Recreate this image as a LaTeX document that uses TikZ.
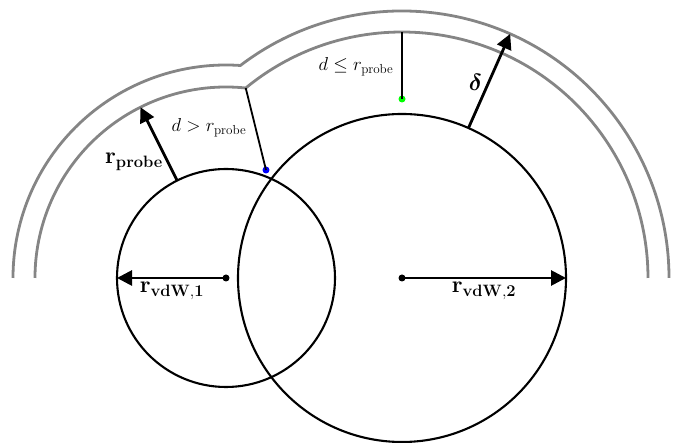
\documentclass[tikz,border=0pt]{standalone}
\usepackage{fix-cm}
\usepackage{amsmath,bm}
\usetikzlibrary{arrows.meta,calc}
\begin{document}
\begin{tikzpicture}[x=1pt,y=1pt,
  atom/.style={draw=black,line width=2.1pt},
  shell/.style={draw=black!48,line width=2.8pt},
  radarrow/.style={line width=2.8pt,-{Triangle[length=15pt,width=15pt]}},
  thinline/.style={line width=1.8pt},
  ctrdot/.style={circle,fill=black,inner sep=0pt,minimum size=7pt},
  probedot/.style={circle,inner sep=0pt,minimum size=7pt},
  biglabel/.style={font=\fontsize{23.5}{28}\selectfont,inner sep=1pt},
  smalllabel/.style={font=\fontsize{18.7}{22}\selectfont,inner sep=1pt}]
\useasboundingbox (0,0) rectangle (680,443);
% centres
\coordinate (c1) at (226,165);
\coordinate (c2) at (402,165);
% vdW spheres
\draw[atom] (c1) circle[radius=109pt];
\draw[atom] (c2) circle[radius=164pt];
% probe surfaces
\draw[shell] ([shift={(180:191pt)}]c1) arc[start angle=180,end angle=84.07,radius=191pt]
  arc[start angle=129.44,end angle=0,radius=246pt];
\draw[shell] ([shift={(180:213pt)}]c1) arc[start angle=180,end angle=86.13,radius=213pt]
  arc[start angle=127.26,end angle=0,radius=267pt];
% key points
\coordinate (kin) at ([shift={(84.07:191pt)}]c1);
\coordinate (top2) at ([shift={(90:246pt)}]c2);
\node[probedot,fill=blue] (bd) at (266,273) {};
\node[probedot,fill=green] (gd) at (402,344) {};
\draw[thinline] (bd.center) -- (kin);
\draw[thinline] (gd.center) -- (top2);
% centre dots and radius arrows
\node[ctrdot] (d1) at (c1) {};
\node[ctrdot] (d2) at (c2) {};
\coordinate (e1) at ([shift={(180:109pt)}]c1);
\coordinate (e2) at ([shift={(0:164pt)}]c2);
\draw[radarrow] (d1.center) -- (e1);
\draw[radarrow] (d2.center) -- (e2);
% probe radius arrow
\coordinate (p0) at ([shift={(116.6:109pt)}]c1);
\coordinate (p1) at ([shift={(116.6:191pt)}]c1);
\draw[radarrow] (p0) -- (p1);
% delta arrow
\coordinate (q0) at ([shift={(66.1:164pt)}]c2);
\coordinate (q1) at ([shift={(66.1:267pt)}]c2);
\draw[radarrow] (q0) -- (q1);
% labels
\node[biglabel] (lrp) at (134,281) {$\mathbf{r_{probe}}$};
\node[biglabel] (ldel) at (475.5,361) {$\bm{\delta}$};
\node[biglabel] (lv1) at (172,152) {$\mathbf{r_{vdW,1}}$};
\node[biglabel] (lv2) at (484,152) {$\mathbf{r_{vdW,2}}$};
\node[smalllabel] (lgt) at (209,315) {$d > r_{\mathrm{probe}}$};
\node[smalllabel] (lle) at (356,376) {$d \le r_{\mathrm{probe}}$};
\end{tikzpicture}
\end{document}
